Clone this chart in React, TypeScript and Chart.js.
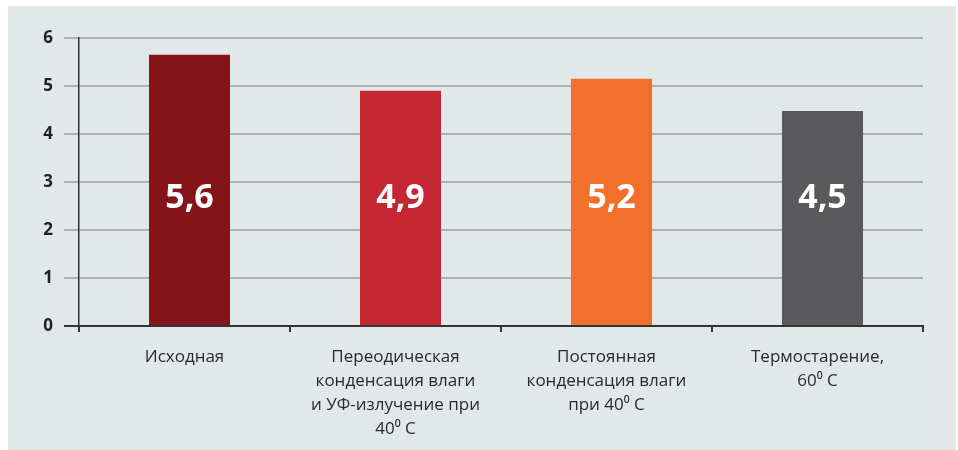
import React, { useEffect, useRef } from "react";
import { Chart, registerables } from "chart.js";

Chart.register(...registerables);

const categories: string[][] = [
  ["Исходная"],
  ["Переодическая", "конденсация влаги", "и УФ-излучение при", "40⁰ C"],
  ["Постоянная", "конденсация влаги", "при 40⁰ C"],
  ["Термостарение,", "60⁰ C"],
];
const values: number[] = [5.65, 4.9, 5.15, 4.48];
const valueLabels: string[] = ["5,6", "4,9", "5,2", "4,5"];
const barColors: string[] = ["#84141a", "#c42633", "#f26f2c", "#5a5a5c"];
const yTicks: number[] = [0, 1, 2, 3, 4, 5, 6];

const FONT = "'Open Sans', 'Noto Sans', sans-serif";
const BAR_SHIFT = 5;

const barShiftPlugin = {
  id: "barShift",
  beforeDatasetsDraw(chart: any) {
    chart.ctx.save();
    chart.ctx.translate(BAR_SHIFT, 0);
  },
  afterDatasetsDraw(chart: any) {
    chart.ctx.restore();
  },
};

const valueLabelPlugin = {
  id: "valueLabels",
  afterDatasetsDraw(chart: any) {
    const ctx = chart.ctx;
    const meta = chart.getDatasetMeta(0);
    const y = chart.scales.y.getPixelForValue(2.66);
    ctx.save();
    ctx.fillStyle = "#ffffff";
    ctx.font = `bold 34px ${FONT}`;
    ctx.textAlign = "center";
    ctx.textBaseline = "middle";
    meta.data.forEach((bar: any, i: number) => {
      ctx.fillText(valueLabels[i], bar.x + BAR_SHIFT, y);
    });
    ctx.restore();
  },
};

export default function App() {
  const ref = useRef<HTMLCanvasElement | null>(null);
  useEffect(() => {
    if (!ref.current) return;
    const chart = new Chart(ref.current, {
      type: "bar",
      data: {
        labels: categories,
        datasets: [
          {
            data: values,
            backgroundColor: barColors,
            barPercentage: 0.384,
            categoryPercentage: 1,
          },
        ],
      },
      plugins: [barShiftPlugin, valueLabelPlugin],
      options: {
        animation: false,
        responsive: false,
        maintainAspectRatio: false,
        layout: { padding: { top: 32, right: 33, left: 0, bottom: 0 } },
        plugins: {
          legend: { display: false },
          tooltip: { enabled: false },
        },
        scales: {
          x: {
            offset: true,
            grid: {
              offset: true,
              drawOnChartArea: false,
              drawTicks: true,
              tickLength: 6,
              color: "#333333",
              lineWidth: 2,
            },
            border: { display: true, color: "#333333", width: 2 },
            ticks: {
              color: "#2a2a2a",
              padding: 13,
              maxRotation: 0,
              autoSkip: false,
              font: { family: FONT, size: 17, lineHeight: 1.41 },
            },
            afterFit: (s: any) => {
              s.height = 124;
            },
          },
          y: {
            min: 0,
            max: 6,
            afterBuildTicks: (s: any) => {
              s.ticks = yTicks.map((v) => ({ value: v }));
            },
            grid: {
              color: (c: any) => (c.tick && c.tick.value === 0 ? "#333333" : "#aeb1b3"),
              lineWidth: 2,
              tickLength: 15,
            },
            border: { display: true, color: "#333333", width: 1.5 },
            ticks: {
              color: "#222222",
              padding: 11,
              font: { family: FONT, size: 17, weight: "bold" },
            },
            afterFit: (s: any) => {
              s.width = 71;
            },
          },
        },
      },
    });
    return () => chart.destroy();
  }, []);
  return (
    <div
      style={{
        position: "absolute",
        left: 8,
        top: 6,
        background: "#e2e7ea",
        width: 948,
        height: 444,
      }}
    >
      <canvas ref={ref} width={948} height={444} style={{ display: "block" }} />
    </div>
  );
}
